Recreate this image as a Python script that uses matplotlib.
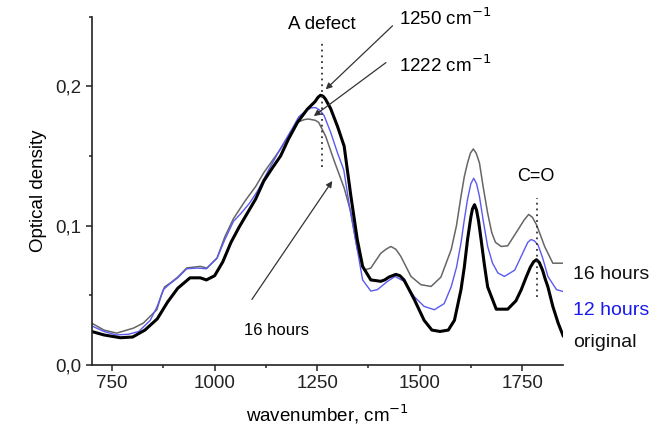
import matplotlib
matplotlib.use("Agg")
import matplotlib.pyplot as plt
from matplotlib.ticker import MultipleLocator, FuncFormatter

plt.rcParams['font.family'] = ['Liberation Sans', 'DejaVu Sans']

# ---- data ----
x_orig = [700, 730, 770, 800, 830, 860, 885, 910, 940, 965, 980, 1000, 1020, 1040, 1060,
          1080, 1100, 1120, 1140, 1161, 1180, 1202, 1226, 1245, 1252, 1258, 1264, 1270, 1283,
          1300, 1316, 1332, 1348, 1361, 1381, 1405, 1415, 1425, 1442, 1452, 1462, 1487, 1511,
          1530, 1550, 1570, 1585, 1601, 1609, 1617, 1625, 1629, 1634, 1639, 1644, 1650, 1658,
          1666, 1687, 1715, 1735, 1748, 1760, 1770, 1778, 1785, 1792, 1800, 1806, 1813, 1825,
          1838, 1850]
y_orig = [0.024, 0.0215, 0.0195, 0.020, 0.025, 0.033, 0.045, 0.055, 0.0625, 0.0625, 0.061,
          0.064, 0.074, 0.088, 0.099, 0.109, 0.119, 0.132, 0.141, 0.150, 0.162, 0.174,
          0.1835, 0.189, 0.192, 0.1935, 0.193, 0.191, 0.184, 0.171, 0.157, 0.122, 0.090,
          0.0707, 0.061, 0.060, 0.061, 0.063, 0.065, 0.064, 0.061, 0.047, 0.032, 0.025,
          0.024, 0.025, 0.032, 0.054, 0.070, 0.090, 0.106, 0.112, 0.115, 0.111, 0.103,
          0.090, 0.072, 0.056, 0.040, 0.040, 0.046, 0.054, 0.063, 0.070, 0.074, 0.0755,
          0.0735, 0.068, 0.062, 0.056, 0.042, 0.030, 0.021]

x_12h = [700, 730, 760, 790, 815, 843, 860, 875, 890, 910, 932, 957, 980, 1006, 1025, 1046,
         1065, 1085, 1105, 1130, 1160, 1190, 1205, 1225, 1236, 1246, 1256, 1267, 1283, 1300,
         1315, 1330, 1348, 1361, 1381, 1397, 1422, 1440, 1462, 1487, 1511, 1536, 1560, 1577,
         1590, 1601, 1609, 1617, 1625, 1632, 1639, 1646, 1655, 1666, 1678, 1691, 1707, 1732,
         1756, 1764, 1772, 1780, 1789, 1800, 1813, 1834, 1850]
y_12h = [0.028, 0.024, 0.0215, 0.022, 0.024, 0.032, 0.042, 0.054, 0.058, 0.0625, 0.069,
         0.0695, 0.069, 0.0767, 0.090, 0.103, 0.109, 0.116, 0.125, 0.139, 0.155, 0.170,
         0.178, 0.183, 0.1845, 0.1847, 0.183, 0.179, 0.167, 0.152, 0.140, 0.112, 0.083,
         0.061, 0.053, 0.054, 0.060, 0.0635, 0.060, 0.049, 0.042, 0.0396, 0.044, 0.056,
         0.070, 0.0875, 0.104, 0.119, 0.130, 0.134, 0.130, 0.121, 0.104, 0.085, 0.073,
         0.066, 0.0635, 0.068, 0.083, 0.088, 0.090, 0.089, 0.086, 0.077, 0.0635, 0.054,
         0.0527]

x_16h = [700, 730, 761, 802, 826, 859, 870, 878, 892, 910, 932, 965, 981, 1006, 1025, 1046,
         1075, 1100, 1120, 1161, 1201, 1218, 1228, 1238, 1246, 1254, 1271, 1291, 1316, 1332,
         1348, 1365, 1381, 1405, 1418, 1430, 1442, 1454, 1479, 1503, 1528, 1552, 1577, 1590,
         1601, 1609, 1617, 1624, 1631, 1638, 1646, 1655, 1666, 1676, 1685, 1699, 1715, 1740,
         1755, 1766, 1775, 1785, 1795, 1805, 1825, 1850]
y_16h = [0.030, 0.025, 0.0228, 0.0264, 0.030, 0.0396, 0.050, 0.056, 0.0588, 0.063, 0.0696,
         0.0707, 0.0695, 0.0767, 0.092, 0.105, 0.118, 0.128, 0.138, 0.155, 0.174, 0.176,
         0.1765, 0.176, 0.1755, 0.174, 0.164, 0.147, 0.127, 0.110, 0.083, 0.068, 0.0695,
         0.080, 0.083, 0.085, 0.083, 0.078, 0.0635, 0.0576, 0.0563, 0.063, 0.0827, 0.100,
         0.121, 0.135, 0.145, 0.152, 0.155, 0.152, 0.145, 0.128, 0.109, 0.095, 0.088,
         0.085, 0.0855, 0.097, 0.104, 0.108, 0.106, 0.1007, 0.093, 0.085, 0.073, 0.073]

series_labels = ["16 hours", "12 hours", "original"]
x_ticks = [750, 1000, 1250, 1500, 1750]
y_ticks = [0.0, 0.1, 0.2]

# ---- figure ----
fig = plt.figure(figsize=(6.64, 4.37), dpi=100)
ax = fig.add_axes([0.138, 0.165, 0.710, 0.797])

ax.plot(x_16h, y_16h, color='#666666', lw=1.1, solid_joinstyle='round')
ax.plot(x_12h, y_12h, color='#5a5af0', lw=1.0, solid_joinstyle='round')
ax.plot(x_orig, y_orig, color='black', lw=2.2, solid_joinstyle='round')

ax.set_xlim(700, 1850)
ax.set_ylim(0, 0.25)
ax.set_xticks(x_ticks)
ax.set_yticks(y_ticks)
ax.xaxis.set_minor_locator(MultipleLocator(125))
ax.yaxis.set_minor_locator(MultipleLocator(0.05))
ax.yaxis.set_major_formatter(FuncFormatter(lambda v, p: f"{v:.1f}".replace('.', ',')))

for s in ['top', 'right']:
    ax.spines[s].set_visible(False)
for s in ['left', 'bottom']:
    ax.spines[s].set_linewidth(1.2)
    ax.spines[s].set_color('#222222')
ax.tick_params(which='major', direction='out', length=4, width=1.1, labelsize=13.5,
               colors='#222222')
ax.tick_params(which='minor', direction='out', length=2.5, width=1.1, colors='#222222')
ax.tick_params(axis='x', pad=3)

ax.set_xlabel("wavenumber, cm$^{-1}$", fontsize=13.5, labelpad=8)
ax.set_ylabel("Optical density", fontsize=13.5, labelpad=6)

# dotted markers
ax.plot([1263, 1263], [0.142, 0.232], color='#333333', lw=1.3, ls=(0, (1, 2.2)))
ax.plot([1787, 1787], [0.049, 0.120], color='#333333', lw=1.3, ls=(0, (1, 2.2)))

ax.text(1262, 0.244, "A defect", fontsize=13.5, ha='center', va='center')
ax.text(1783, 0.135, "C=O", fontsize=13, ha='center', va='center')

arrow = dict(arrowstyle='-|>', color='#333333', lw=0.9, mutation_scale=9, shrinkA=0, shrinkB=0)
ax.annotate("", xy=(1271, 0.1978), xytext=(1434, 0.2434), arrowprops=arrow)
ax.annotate("", xy=(1242, 0.1786), xytext=(1418, 0.217), arrowprops=arrow)
ax.annotate("", xy=(1287, 0.132), xytext=(1091, 0.047), arrowprops=arrow)

ax.text(1449, 0.249, "1250 cm$^{-1}$", fontsize=13.5, ha='left', va='center')
ax.text(1449, 0.215, "1222 cm$^{-1}$", fontsize=13.5, ha='left', va='center')
ax.text(1150, 0.0245, "16 hours", fontsize=12, ha='center', va='center')

label_colors = ['#111111', '#1a1aee', '#111111']
label_y = [0.0648, 0.0393, 0.0158]
for lab, c, yy in zip(series_labels, label_colors, label_y):
    ax.text(1875, yy, lab, fontsize=14, color=c, ha='left', va='center', clip_on=False)

fig.savefig("out.png", dpi=100)
